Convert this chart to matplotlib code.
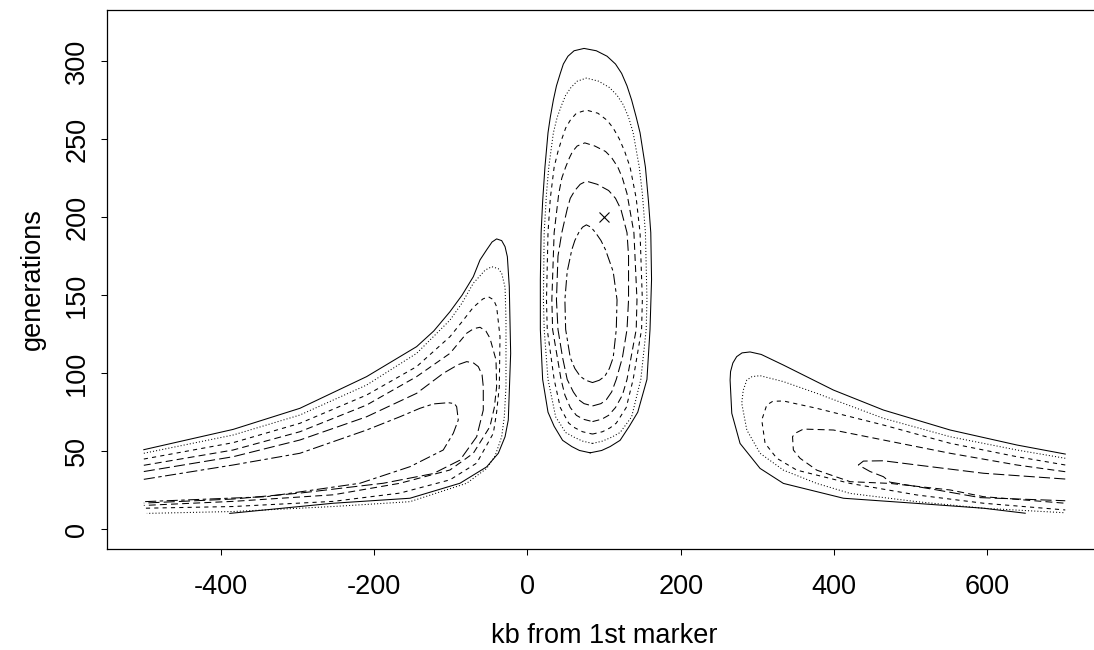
import matplotlib
matplotlib.use("Agg")
import matplotlib.pyplot as plt

plt.rcParams['font.family'] = ['Liberation Sans', 'DejaVu Sans']
plt.rcParams['axes.unicode_minus'] = False
plt.rcParams['lines.scale_dashes'] = False

# ---------------- data ----------------
x_ticks = [-400, -200, 0, 200, 400, 600]
y_ticks = [0, 50, 100, 150, 200, 250, 300]
x_label = "kb from 1st marker"
y_label = "generations"
mle_x = [100]
mle_y = [200]

# central peak: closed contours given by bottom point, top point and rows (y, left x, right x)
mid1_bottom = (82, 49);  mid1_top = (74, 308)
mid1_y = [50.5, 53, 57, 66, 75, 96, 128, 160, 190, 210, 232, 254, 264, 275, 284, 292, 298, 303, 306.5]
mid1_l = [68, 58, 46, 35, 27, 20, 17, 17, 18, 20, 23, 27, 30, 34, 38, 43, 47, 53, 61]
mid1_r = [97, 108, 121, 133, 144, 156, 160, 162, 161, 158, 154, 147, 142, 136, 130, 123, 115, 104, 90]

mid2_bottom = (85, 55);  mid2_top = (77, 289)
mid2_y = [56.5, 59, 62, 72, 96, 128, 147, 190, 215, 232, 254, 264, 272, 278, 283, 287]
mid2_l = [72, 61, 50, 37, 27, 22, 21, 22, 25, 28, 34, 39, 45, 50, 57, 65]
mid2_r = [98, 110, 121, 136, 148, 155, 156, 154, 150, 146, 138, 132, 125, 117, 107, 93]

mid3_bottom = (85, 61);  mid3_top = (77, 268.5)
mid3_y = [62.5, 65, 68, 78, 96, 128, 147, 190, 212, 232, 242, 250, 257, 262, 266.5]
mid3_l = [72, 62, 54, 43, 35, 26, 25, 27, 30, 35, 40, 45, 50, 56, 64]
mid3_r = [98, 108, 116, 129, 138, 149, 150, 147, 142, 134, 127, 120, 112, 104, 92]

mid4_bottom = (85, 69);  mid4_top = (75, 247.5)
mid4_y = [70.5, 73, 78, 86, 96, 128, 147, 190, 215, 225, 232, 238, 242, 245.5]
mid4_l = [73, 64, 56, 49, 44, 33, 32, 35, 41, 45, 50, 55, 59, 65]
mid4_r = [97, 106, 115, 124, 130, 142, 143, 139, 130, 124, 118, 110, 102, 88]

mid5_bottom = (85, 79);  mid5_top = (77, 223)
mid5_y = [80.5, 83, 88, 96, 110, 128, 147, 175, 190, 205, 212, 217, 221]
mid5_l = [74, 67, 60, 52, 46, 40, 38, 40, 45, 52, 56, 62, 69]
mid5_r = [96, 103, 110, 116, 124, 130, 132, 132, 130, 122, 115, 106, 91]

mid6_bottom = (85, 94);  mid6_top = (77, 195)
mid6_y = [95.5, 98, 103, 110, 128, 147, 165, 179, 185, 190, 193.5]
mid6_l = [76, 69, 62, 56, 50, 49, 52, 58, 62, 67, 72]
mid6_r = [94, 101, 107, 112, 116, 117, 112, 102, 96, 89, 83]

# left lobe: open contours
left1_x = [-500, -383.5, -296.5, -209.5, -144.3, -122, -100.8, -85, -70.4, -61.7, -53, -46, -40, -33.4, -29, -26, -23.5, -21.7, -24.8, -29, -37.8, -53, -87.8, -153, -253, -388]
left1_y = [51, 64, 77.5, 97.8, 117, 127, 139.4, 150, 161.8, 172.5, 179, 184, 186, 184.9, 181, 174.6, 155.4, 112.7, 70, 59.3, 48.7, 40, 29.5, 19.9, 16.7, 10.2]
left2_x = [-500, -383.5, -296.5, -209.5, -144.3, -100.8, -85, -70.4, -55, -46.4, -38, -33.4, -29, -27.8, -27.8, -30, -33.4, -42, -53, -79, -153, -253, -383.5, -496]
left2_y = [48.7, 60.4, 73.2, 92.4, 112.7, 134, 145, 157.6, 166, 168.2, 167, 164, 155, 134, 91.4, 72, 59.3, 47, 39, 29.5, 17.7, 14.6, 11.4, 10.2]
left3_x = [-500, -383.5, -296.5, -209.5, -144.3, -100.8, -85, -70.4, -58, -50.9, -44, -40, -35.6, -36.5, -40, -44.3, -66, -100.8, -166, -253, -383.5, -500]
left3_y = [45, 55.5, 67.9, 86, 104.2, 123.4, 133, 142.2, 147.5, 149, 147, 142.6, 123.4, 91.4, 75, 61.5, 42.4, 31.7, 23.2, 17.9, 14.6, 13.5]
left4_x = [-500, -383.5, -296.5, -209.5, -144.3, -100.8, -79, -70, -61.7, -54, -48.7, -40.8, -40, -43, -48.7, -70.4, -100.8, -166, -253, -383.5, -500]
left4_y = [41, 50.8, 62.5, 79.6, 97.8, 112.7, 125.6, 128.5, 129.4, 127, 122.4, 108.5, 91.4, 78, 65.8, 48.7, 38, 29.5, 22.1, 17.9, 15.3]
left5_x = [-500, -383.5, -296.5, -209.5, -144.3, -109.6, -90, -79, -70, -63.9, -59, -57.4, -57.4, -66, -87.8, -122.6, -187.8, -296.5, -383.5, -500]
left5_y = [37, 46.5, 57.2, 72.1, 87.1, 99.9, 105.5, 107.4, 106.5, 104.2, 99, 91.4, 76.4, 59.3, 44.3, 35.7, 29.5, 23.2, 19.4, 16.8]
left6_x = [-500, -383.5, -296.5, -209.5, -166, -140, -122.6, -103, -95, -92.1, -90, -96.5, -109.6, -153, -218.2, -340, -500]
left6_y = [32, 41.2, 48.7, 63.6, 72.1, 77.5, 80.3, 81.1, 80.5, 78.5, 70, 61.5, 50.8, 40.1, 29.5, 20.9, 17.7]

# right lobe: open contours
right1_x = [701.4, 638.3, 551.3, 464.3, 399.1, 333.9, 305, 290.4, 280, 273, 268, 265, 264.4, 266.6, 277.4, 303.5, 333.9, 412.2, 507.9, 594.8, 649.2]
right1_y = [48.2, 54, 63.6, 76.4, 89.2, 105.2, 112, 113.6, 113, 110.6, 106.5, 101, 95.6, 74.3, 55, 39, 29.4, 19.9, 16.6, 13.5, 10.3]
right2_x = [701.4, 638.3, 551.3, 464.3, 377.4, 333.9, 303.5, 293, 286.2, 281.5, 279.6, 286.2, 303.5, 333.9, 377.4, 420.9, 507.9, 594.8, 701.4]
right2_y = [45.5, 50.8, 59.3, 71.1, 87.1, 94.6, 98.4, 97.8, 95.6, 89, 80.7, 63.6, 48.7, 37.9, 29.4, 23, 17.7, 13.5, 10.6]
right3_x = [701.4, 638.3, 551.3, 464.3, 377.4, 333.9, 320, 312.2, 305.7, 310, 325.3, 351.4, 420.9, 507.9, 594.8, 701.4]
right3_y = [41.2, 46.5, 55.1, 66.8, 77.5, 82.2, 82, 79.6, 70, 55.1, 45.5, 37.9, 29.4, 22, 16.7, 12.4]
right4_x = [701.4, 638.3, 551.3, 464.3, 399.1, 360, 349.2, 345.8, 346.9, 355.6, 377.4, 420.9, 473, 551.3, 594.8, 701.4]
right4_y = [36.9, 41.2, 48.7, 57.2, 63.6, 64.2, 61.5, 59.3, 50.8, 45.5, 37.9, 30.5, 29.4, 25.2, 20.9, 16.7]
right5_x = [701.4, 594.8, 507.9, 464.3, 438.2, 431.7, 447, 464.3, 473, 529.6, 590.5, 701.4]
right5_y = [32.2, 35.9, 41.2, 43.9, 43.7, 41.2, 37, 33.7, 30.2, 25.6, 20.3, 18.3]

# ---------------- styles ----------------
level_styles = [
    '-',
    (0, (0.75, 1.5)),
    (0, (3, 3)),
    (0, (5, 3)),
    (0, (8, 3)),
    (0, (8, 2.5, 2.5, 2.5)),
]
LW = 0.75
FS = 19.5


def closed_from_rows(bottom, top, ys, left, right):
    xs = [bottom[0]] + list(right) + [top[0]] + list(left[::-1]) + [bottom[0]]
    yv = [bottom[1]] + list(ys) + [top[1]] + list(ys[::-1]) + [bottom[1]]
    return xs, yv


fig = plt.figure(figsize=(10.94, 6.5), dpi=100)
ax = fig.add_axes([107 / 1094, (650 - 549.3) / 650, (1101 - 107) / 1094, (549.3 - 9.7) / 650])

mids = [
    (mid1_bottom, mid1_top, mid1_y, mid1_l, mid1_r),
    (mid2_bottom, mid2_top, mid2_y, mid2_l, mid2_r),
    (mid3_bottom, mid3_top, mid3_y, mid3_l, mid3_r),
    (mid4_bottom, mid4_top, mid4_y, mid4_l, mid4_r),
    (mid5_bottom, mid5_top, mid5_y, mid5_l, mid5_r),
    (mid6_bottom, mid6_top, mid6_y, mid6_l, mid6_r),
]
for i, m in enumerate(mids):
    xs, ys = closed_from_rows(*m)
    ax.plot(xs, ys, color='black', lw=LW, linestyle=level_styles[i])

lefts = [(left1_x, left1_y), (left2_x, left2_y), (left3_x, left3_y),
         (left4_x, left4_y), (left5_x, left5_y), (left6_x, left6_y)]
for i, (xs, ys) in enumerate(lefts):
    ax.plot(xs, ys, color='black', lw=LW, linestyle=level_styles[i])

rights = [(right1_x, right1_y), (right2_x, right2_y), (right3_x, right3_y),
          (right4_x, right4_y), (right5_x, right5_y)]
for i, (xs, ys) in enumerate(rights):
    ax.plot(xs, ys, color='black', lw=LW, linestyle=level_styles[i])

ax.plot(mle_x, mle_y, marker='x', color='black', markersize=7, mew=0.8, linestyle='none')

ax.set_xlim(-548, 748)
ax.set_ylim(-12.8, 332.8)
ax.set_xticks(x_ticks)
ax.set_xticklabels([str(v) for v in x_ticks])
ax.set_yticks(y_ticks)
ax.set_yticklabels([str(v) for v in y_ticks], rotation=90, va='center')
ax.tick_params(axis='both', direction='out', length=4, width=0.75, labelsize=FS, colors='black')
ax.tick_params(axis='x', pad=14)
ax.tick_params(axis='y', pad=8)
for s in ax.spines.values():
    s.set_linewidth(0.9)
    s.set_color('black')

fig.text(604 / 1094, 1 - 636 / 650, x_label, ha='center', va='center', fontsize=FS)
fig.text(33 / 1094, 1 - (9.7 + 549.3) / 2 / 650, y_label, ha='center', va='center', rotation=90, fontsize=FS)

fig.savefig('out.png', dpi=100)
